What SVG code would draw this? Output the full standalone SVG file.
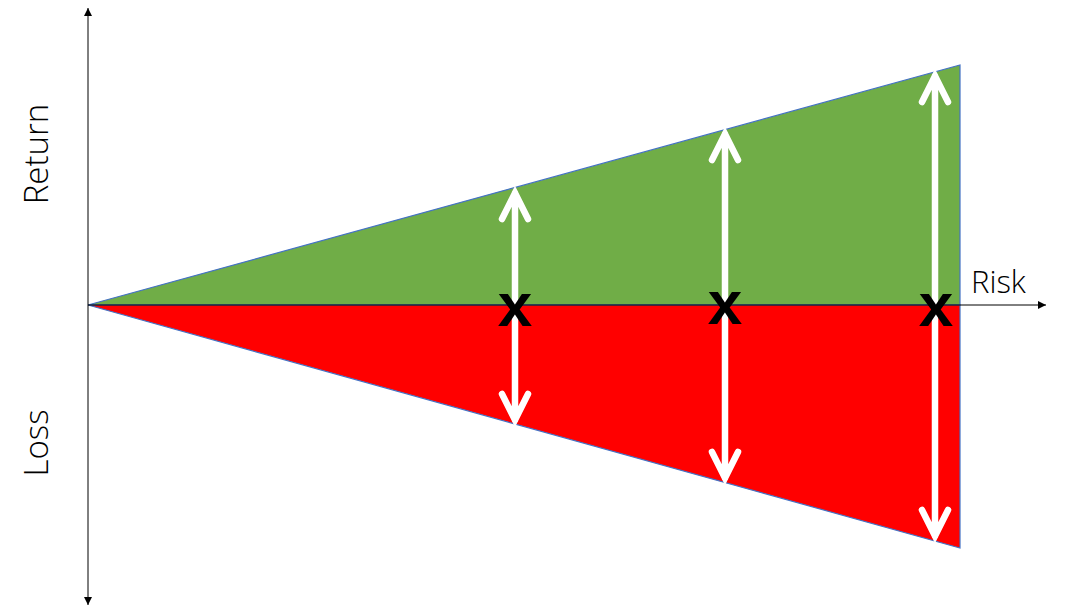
<svg xmlns="http://www.w3.org/2000/svg" width="1083" height="614" viewBox="0 0 1083 614">
<defs>
<style>
.axis{stroke:#000;stroke-width:1;fill:none}
.tri{stroke:#4472C4;stroke-width:1.2}
.wa{stroke:#fff;stroke-width:6.5;fill:none;stroke-linecap:round;stroke-linejoin:miter}
.lbl{font-family:"Open Sans","Noto Sans",sans-serif;font-weight:300;font-size:33px;fill:#000}
.x{font-family:"Liberation Sans",Arial,sans-serif;font-weight:bold;font-size:62px;fill:#000;text-anchor:middle}
</style>
<marker id="ah" viewBox="0 0 10 10" refX="10" refY="5" markerWidth="8" markerHeight="8" markerUnits="userSpaceOnUse" orient="auto">
<path d="M0,0 L10,5 L0,10 z" fill="#000"/>
</marker>
</defs>
<rect width="1083" height="614" fill="#fff"/>
<g id="green-area"><polygon class="tri" points="88,305 960,65 960,305" fill="#70AD47"/></g>
<g id="red-area"><polygon class="tri" points="88,305 960,305 960,548" fill="#FF0000"/></g>
<g id="connectors">
<line class="axis" x1="88" y1="305" x2="1046" y2="305" marker-end="url(#ah)"/>
<line class="axis" x1="88" y1="305" x2="88" y2="8" marker-end="url(#ah)"/>
<line class="axis" x1="88" y1="305" x2="88" y2="605" marker-end="url(#ah)"/>
<g id="arrows1">
<path class="wa" d="M515,312 V193 M502,219 L515,193 L528,219"/>
<path class="wa" d="M515,312 V420 M502,394 L515,420 L528,394"/>
</g>
<g id="arrows2">
<path class="wa" d="M725,312 V134 M712,160 L725,134 L738,160"/>
<path class="wa" d="M725,312 V478 M712,452 L725,478 L738,452"/>
</g>
<g id="arrows3">
<path class="wa" d="M935,312 V76 M922,102 L935,76 L948,102"/>
<path class="wa" d="M935,312 V536 M922,510 L935,536 L948,510"/>
</g>
</g>
<g id="marks">
<text class="x" x="515" y="326">x</text>
<text class="x" x="725" y="324">x</text>
<text class="x" x="936" y="326">x</text>
</g>
<g id="labels">
<text class="lbl" x="971" y="293" style="font-size:31px">Risk</text>
<text class="lbl" transform="translate(48,154) rotate(-90)" text-anchor="middle">Return</text>
<text class="lbl" transform="translate(48,443) rotate(-90)" text-anchor="middle">Loss</text>
</g>
</svg>
